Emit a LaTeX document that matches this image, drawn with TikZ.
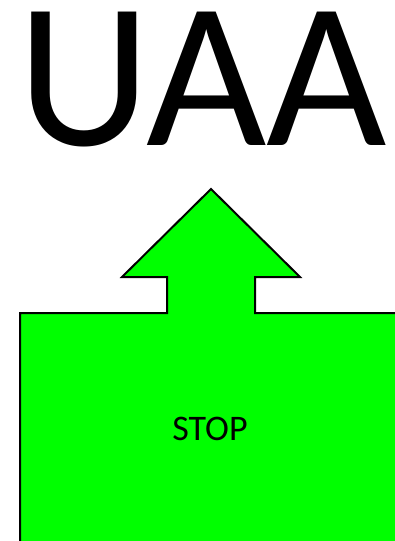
\documentclass[tikz,border=0pt]{standalone}
\usepackage{fontspec}
\setmainfont{Carlito}
\tikzset{
  callout/.style={draw=black, line width=2pt, fill={rgb,255:red,0;green,255;blue,0}, line join=miter},
}
\begin{document}
\begin{tikzpicture}[x=1pt, y=-1pt]
  \useasboundingbox (0,0) rectangle (395,541);
  \clip (0,0) rectangle (395,541);
  % big title
  \node[anchor=base, inner sep=0pt, font=\fontsize{208}{208}\selectfont] (title) at (202,145) {UAA};
  % up-arrow callout, running off the right and bottom edges
  \draw[callout] (20,560) -- (20,313) -- (167,313) -- (167,277) -- (122,277)
        -- (211,189) -- (300,277) -- (255,277) -- (255,313) -- (420,313)
        -- (420,560) -- cycle;
  \node[inner sep=0pt, font=\fontsize{36}{36}\selectfont, anchor=base] (stop) at (210,440) {STOP};
\end{tikzpicture}
\end{document}
